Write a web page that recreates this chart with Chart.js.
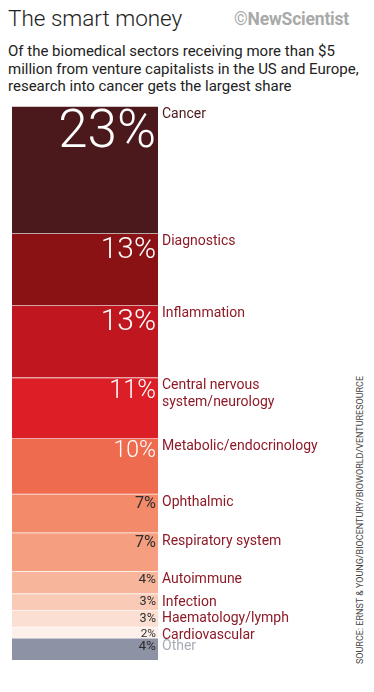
<!DOCTYPE html>
<html lang="en">
<head>
    <meta charset="UTF-8">
    <title>The smart money</title>
    <script src="https://cdn.jsdelivr.net/npm/chart.js"></script>
    <style>
        body {
            margin: 0;
            width: 374px;
            height: 692px;
            background: #fff;
            font-family: Roboto, 'Noto Sans', sans-serif;
            position: relative;
            overflow: hidden;
        }
        h1 {
            position: absolute;
            left: 8px;
            top: 5px;
            margin: 0;
            font-size: 22.5px;
            font-weight: 300;
            color: #222;
        }
        .logo {
            position: absolute;
            left: 234px;
            top: 9px;
            font-size: 17.5px;
            font-weight: 700;
            color: #a9a9a9;
            letter-spacing: -0.2px;
        }
        .logo span {
            font-weight: 400;
        }
        .sub {
            position: absolute;
            left: 8px;
            top: 43px;
            width: 366px;
            font-size: 15px;
            line-height: 17.5px;
            color: #222;
            white-space: nowrap;
        }
        .source {
            position: absolute;
            left: 355px;
            top: 380px;
            height: 284px;
            writing-mode: vertical-rl;
            transform: rotate(180deg);
            font-size: 9px;
            color: #444;
            white-space: nowrap;
        }
        .chart-container {
            position: absolute;
            left: 0;
            top: 100px;
            width: 374px;
            height: 580px;
        }
    </style>
</head>
<body>
    <h1>The smart money</h1>
    <div class="logo"><span>©</span>NewScientist</div>
    <div class="sub">Of the biomedical sectors receiving more than $5<br>million from venture capitalists in the US and Europe,<br>research into cancer gets the largest share</div>
    <div class="source">SOURCE: ERNST &amp; YOUNG/BIOCENTURY/BIOWORLD/VENTURESOURCE</div>
    <div class="chart-container">
        <canvas id="shareChart"></canvas>
    </div>

    <script>
        // Share of VC funding by sector (%)
        const sectors = ["Cancer", "Diagnostics", "Inflammation", ["Central nervous", "system/neurology"], "Metabolic/endocrinology",
            "Ophthalmic", "Respiratory system", "Autoimmune", "Infection", "Haematology/lymph", "Cardiovascular", "Other"];
        const shares = [23, 13, 13, 11, 10, 7, 7, 4, 3, 3, 2, 4];

        const fills = ['#4b181b', '#8a1215', '#c0161f', '#dc1f27', '#ef6b4f', '#f38b6b', '#f59e80',
            '#f7b59b', '#f9cbb7', '#fbdfd3', '#fdefe9', '#8d92a4'];
        const nameColors = ['#4b181b', '#8e1a27', '#8e1a27', '#8e1a27', '#8e1a27', '#8e1a27', '#8e1a27',
            '#8e1a27', '#8e1a27', '#8e1a27', '#8e1a27', '#a9acb6'];

        // percentage and sector labels next to each block
        const labelPlugin = {
            id: 'blockLabels',
            afterDatasetsDraw(chart) {
                const ctx = chart.ctx;
                ctx.save();
                chart.data.datasets.forEach((ds, i) => {
                    const bar = chart.getDatasetMeta(i).data[0];
                    const top = Math.min(bar.y, bar.base);
                    const right = bar.x + bar.width / 2;
                    const v = shares[i];

                    // bigger shares get bigger numbers
                    const fs = Math.max(10 + 0.9 * v, 2.3 * v);
                    ctx.font = (v >= 10 ? '300 ' : '400 ') + fs + 'px Roboto';
                    ctx.textAlign = 'right';
                    ctx.textBaseline = 'alphabetic';
                    ctx.fillStyle = v >= 10 ? '#fff' : '#2e2e2e';
                    ctx.fillText(v + '%', right - 2, top + 2 + fs * 0.74);

                    ctx.font = '14px Roboto';
                    ctx.textAlign = 'left';
                    ctx.fillStyle = nameColors[i];
                    const lines = Array.isArray(sectors[i]) ? sectors[i] : [sectors[i]];
                    lines.forEach((ln, k) => {
                        ctx.fillText(ln, right + 4, top + 12 + k * 17);
                    });
                });
                ctx.restore();
            }
        };

        const ctx1 = document.getElementById('shareChart').getContext('2d');
        new Chart(ctx1, {
            type: 'bar',
            data: {
                labels: ['share'],
                datasets: shares.map((v, i) => ({
                    label: Array.isArray(sectors[i]) ? sectors[i].join(' ') : sectors[i],
                    data: [v],
                    backgroundColor: fills[i],
                    borderColor: '#fff',
                    borderWidth: { top: 1, bottom: 0, left: 0, right: 0 },
                    borderSkipped: false,
                    barPercentage: 1,
                    categoryPercentage: 1
                }))
            },
            plugins: [labelPlugin],
            options: {
                responsive: true,
                maintainAspectRatio: false,
                animation: false,
                layout: {
                    padding: { left: 12, right: 216, top: 6, bottom: 20 }
                },
                plugins: {
                    legend: { display: false },
                    tooltip: { enabled: false }
                },
                scales: {
                    x: { stacked: true, display: false },
                    y: { stacked: true, display: false, reverse: true, min: 0, max: 100 }
                }
            }
        });
    </script>
</body>
</html>
